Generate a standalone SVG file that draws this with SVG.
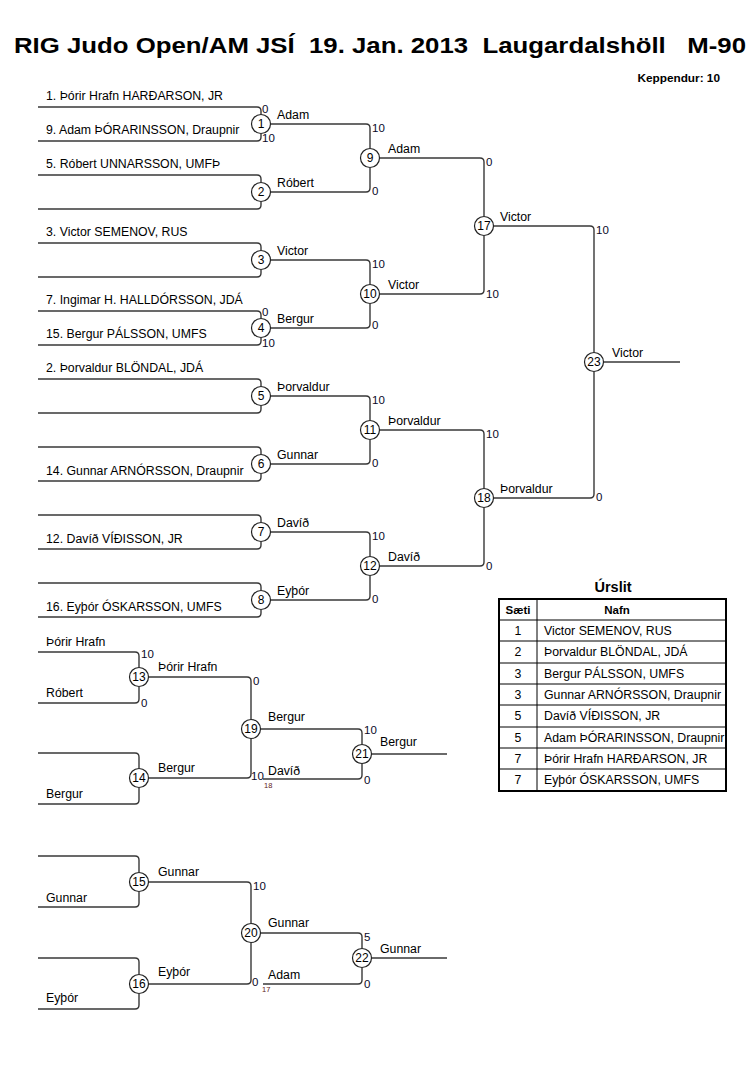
<svg xmlns="http://www.w3.org/2000/svg" width="755" height="1069" viewBox="0 0 755 1069">
<style>
text{font-family:"Liberation Sans",Arial,sans-serif;fill:#000}
.title{font-size:22.5px;font-weight:bold;white-space:pre}
.kp{font-size:11.8px;font-weight:bold}
.nm{font-size:12.3px}
.w{font-size:12.3px}
.s{font-size:11.5px;fill:#0a0a28}
.sm{font-size:7.5px;fill:#602020}
.n{font-size:12px;text-anchor:middle}
.ln{fill:none;stroke:#383838;stroke-width:1.4}
.c{fill:#fff;stroke:#222;stroke-width:1.2}
.tb{fill:none;stroke:#000;stroke-width:2}
.tl{fill:none;stroke:#000;stroke-width:1}
.th{font-size:11.5px;font-weight:bold;text-anchor:middle}
.tc{font-size:12.3px;text-anchor:middle}
.tr{font-size:12.3px}
.ur{font-size:14.5px;font-weight:bold;text-anchor:middle}
</style>
<rect width="755" height="1069" fill="#fff"/>
<text class="title" x="14" y="53" xml:space="preserve" textLength="732" lengthAdjust="spacingAndGlyphs">RIG Judo Open/AM JSÍ  19. Jan. 2013  Laugardalshöll   M-90</text>
<text class="kp" x="720" y="82" text-anchor="end">Keppendur: 10</text>

<g id="connectors">
<path class="ln" d="M38,107 H257 Q261,107 261,111 V114 M38,141 H257 Q261,141 261,137 V134"/>
<path class="ln" d="M38,175 H257 Q261,175 261,179 V182 M38,209 H257 Q261,209 261,205 V202"/>
<path class="ln" d="M38,243 H257 Q261,243 261,247 V250 M38,277 H257 Q261,277 261,273 V270"/>
<path class="ln" d="M38,311 H257 Q261,311 261,315 V318 M38,345 H257 Q261,345 261,341 V338"/>
<path class="ln" d="M38,379 H257 Q261,379 261,383 V386 M38,413 H257 Q261,413 261,409 V406"/>
<path class="ln" d="M38,447 H257 Q261,447 261,451 V454 M38,481 H257 Q261,481 261,477 V474"/>
<path class="ln" d="M38,515 H257 Q261,515 261,519 V522 M38,549 H257 Q261,549 261,545 V542"/>
<path class="ln" d="M38,583 H257 Q261,583 261,587 V590 M38,617 H257 Q261,617 261,613 V610"/>
<path class="ln" d="M271,124 H366 Q370,124 370,128 V148 M271,192 H366 Q370,192 370,188 V168"/>
<path class="ln" d="M271,260 H366 Q370,260 370,264 V284 M271,328 H366 Q370,328 370,324 V304"/>
<path class="ln" d="M271,396 H366 Q370,396 370,400 V420 M271,464 H366 Q370,464 370,460 V440"/>
<path class="ln" d="M271,532 H366 Q370,532 370,536 V556 M271,600 H366 Q370,600 370,596 V576"/>
<path class="ln" d="M380,158 H480 Q484,158 484,162 V216 M380,294 H480 Q484,294 484,290 V236"/>
<path class="ln" d="M380,430 H480 Q484,430 484,434 V488 M380,566 H480 Q484,566 484,562 V508"/>
<path class="ln" d="M494,226 H590 Q594,226 594,230 V352 M494,498 H590 Q594,498 594,494 V372"/>
<path class="ln" d="M604,362 H680"/>
<path class="ln" d="M38,652 H135 Q139,652 139,656 V667 M38,703 H135 Q139,703 139,699 V687"/>
<path class="ln" d="M38,753 H135 Q139,753 139,757 V768 M38,804 H135 Q139,804 139,800 V788"/>
<path class="ln" d="M149,677 H247 Q251,677 251,681 V719 M149,778 H247 Q251,778 251,774 V739"/>
<path class="ln" d="M261,729 H358 Q362,729 362,733 V744 M263,779 H358 Q362,779 362,775 V764"/>
<path class="ln" d="M372,754 H447"/>
<path class="ln" d="M38,856 H135 Q139,856 139,860 V872 M38,907 H135 Q139,907 139,903 V892"/>
<path class="ln" d="M38,958 H135 Q139,958 139,962 V974 M38,1009 H135 Q139,1009 139,1005 V994"/>
<path class="ln" d="M149,882 H247 Q251,882 251,886 V923 M149,984 H247 Q251,984 251,980 V943"/>
<path class="ln" d="M261,933 H358 Q362,933 362,937 V948 M263,984 H358 Q362,984 362,980 V968"/>
<path class="ln" d="M372,958 H447"/>
</g>

<g id="competitors">
<text class="nm" x="46" y="100">1. Þórir Hrafn HARÐARSON, JR</text>
<text class="nm" x="46" y="134">9. Adam ÞÓRARINSSON, Draupnir</text>
<text class="nm" x="46" y="168">5. Róbert UNNARSSON, UMFÞ</text>
<text class="nm" x="46" y="236">3. Victor SEMENOV, RUS</text>
<text class="nm" x="46" y="304">7. Ingimar H. HALLDÓRSSON, JDÁ</text>
<text class="nm" x="46" y="338">15. Bergur PÁLSSON, UMFS</text>
<text class="nm" x="46" y="372">2. Þorvaldur BLÖNDAL, JDÁ</text>
<text class="nm" x="46" y="475">14. Gunnar ARNÓRSSON, Draupnir</text>
<text class="nm" x="46" y="543">12. Davíð VÍÐISSON, JR</text>
<text class="nm" x="46" y="611">16. Eyþór ÓSKARSSON, UMFS</text>
<text class="nm" x="46" y="646">Þórir Hrafn</text>
<text class="nm" x="46" y="697">Róbert</text>
<text class="nm" x="46" y="798">Bergur</text>
<text class="nm" x="46" y="902">Gunnar</text>
<text class="nm" x="46" y="1002">Eyþór</text>
</g>

<g id="scores">
<text class="s" x="262" y="113">0</text><text class="s" x="262" y="142">10</text>
<text class="s" x="262" y="316">0</text><text class="s" x="262" y="347">10</text>
<text class="s" x="372" y="132">10</text><text class="s" x="372" y="195">0</text>
<text class="s" x="372" y="268">10</text><text class="s" x="372" y="329">0</text>
<text class="s" x="372" y="404">10</text><text class="s" x="372" y="467">0</text>
<text class="s" x="372" y="540">10</text><text class="s" x="372" y="603">0</text>
<text class="s" x="486" y="166">0</text><text class="s" x="486" y="298">10</text>
<text class="s" x="486" y="438">10</text><text class="s" x="486" y="570">0</text>
<text class="s" x="596" y="234">10</text><text class="s" x="596" y="501">0</text>
<text class="s" x="141" y="658">10</text><text class="s" x="141" y="707">0</text>
<text class="s" x="253" y="685">0</text><text class="s" x="251" y="780">10</text>
<text class="s" x="364" y="734">10</text><text class="s" x="364" y="784">0</text>
<text class="s" x="253" y="890">10</text><text class="s" x="252" y="986">0</text>
<text class="s" x="364" y="941">5</text><text class="s" x="364" y="988">0</text>
<text class="sm" x="264" y="788">18</text>
<text class="sm" x="262" y="992">17</text>
</g>

<g id="m1"><circle class="c" cx="261" cy="124" r="9.5"/><text class="n" x="261" y="128">1</text><text class="w" x="277" y="119">Adam</text></g>
<g id="m2"><circle class="c" cx="261" cy="192" r="9.5"/><text class="n" x="261" y="196">2</text><text class="w" x="277" y="187">Róbert</text></g>
<g id="m3"><circle class="c" cx="261" cy="260" r="9.5"/><text class="n" x="261" y="264">3</text><text class="w" x="277" y="255">Victor</text></g>
<g id="m4"><circle class="c" cx="261" cy="328" r="9.5"/><text class="n" x="261" y="332">4</text><text class="w" x="277" y="323">Bergur</text></g>
<g id="m5"><circle class="c" cx="261" cy="396" r="9.5"/><text class="n" x="261" y="400">5</text><text class="w" x="277" y="391">Þorvaldur</text></g>
<g id="m6"><circle class="c" cx="261" cy="464" r="9.5"/><text class="n" x="261" y="468">6</text><text class="w" x="277" y="459">Gunnar</text></g>
<g id="m7"><circle class="c" cx="261" cy="532" r="9.5"/><text class="n" x="261" y="536">7</text><text class="w" x="277" y="527">Davíð</text></g>
<g id="m8"><circle class="c" cx="261" cy="600" r="9.5"/><text class="n" x="261" y="604">8</text><text class="w" x="277" y="595">Eyþór</text></g>
<g id="m9"><circle class="c" cx="370" cy="158" r="9.5"/><text class="n" x="370" y="162">9</text><text class="w" x="388" y="153">Adam</text></g>
<g id="m10"><circle class="c" cx="370" cy="294" r="9.5"/><text class="n" x="370" y="298">10</text><text class="w" x="388" y="289">Victor</text></g>
<g id="m11"><circle class="c" cx="370" cy="430" r="9.5"/><text class="n" x="370" y="434">11</text><text class="w" x="388" y="425">Þorvaldur</text></g>
<g id="m12"><circle class="c" cx="370" cy="566" r="9.5"/><text class="n" x="370" y="570">12</text><text class="w" x="388" y="561">Davíð</text></g>
<g id="m17"><circle class="c" cx="484" cy="226" r="9.5"/><text class="n" x="484" y="230">17</text><text class="w" x="500" y="221">Victor</text></g>
<g id="m18"><circle class="c" cx="484" cy="498" r="9.5"/><text class="n" x="484" y="502">18</text><text class="w" x="500" y="493">Þorvaldur</text></g>
<g id="m23"><circle class="c" cx="594" cy="362" r="9.5"/><text class="n" x="594" y="366">23</text><text class="w" x="612" y="357">Victor</text></g>
<g id="m13"><circle class="c" cx="139" cy="677" r="9.5"/><text class="n" x="139" y="681">13</text><text class="w" x="158" y="671">Þórir Hrafn</text></g>
<g id="m14"><circle class="c" cx="139" cy="778" r="9.5"/><text class="n" x="139" y="782">14</text><text class="w" x="158" y="772">Bergur</text></g>
<g id="m19"><circle class="c" cx="251" cy="729" r="9.5"/><text class="n" x="251" y="733">19</text><text class="w" x="268" y="721">Bergur</text></g>
<g id="m21"><circle class="c" cx="362" cy="754" r="9.5"/><text class="n" x="362" y="758">21</text><text class="w" x="380" y="746">Bergur</text></g>
<g id="m21b"><text class="w" x="268" y="775">Davíð</text></g>
<g id="m15"><circle class="c" cx="139" cy="882" r="9.5"/><text class="n" x="139" y="886">15</text><text class="w" x="158" y="876">Gunnar</text></g>
<g id="m16"><circle class="c" cx="139" cy="984" r="9.5"/><text class="n" x="139" y="988">16</text><text class="w" x="158" y="976">Eyþór</text></g>
<g id="m20"><circle class="c" cx="251" cy="933" r="9.5"/><text class="n" x="251" y="937">20</text><text class="w" x="268" y="927">Gunnar</text></g>
<g id="m22"><circle class="c" cx="362" cy="958" r="9.5"/><text class="n" x="362" y="962">22</text><text class="w" x="380" y="953">Gunnar</text></g>
<g id="m22b"><text class="w" x="268" y="979">Adam</text></g>

<g id="results">
<text class="ur" x="613" y="592">Úrslit</text>
<rect class="tb" x="499" y="599" width="227" height="192"/>
<path class="tl" d="M537,599 V791 M499,620 H726 M499,641 H726 M499,663 H726 M499,684 H726 M499,705 H726 M499,727 H726 M499,748 H726 M499,769 H726"/>
<text class="th" x="518" y="614">Sæti</text>
<text class="th" x="617" y="614">Nafn</text>
<text class="tc" x="518" y="635">1</text><text class="tr" x="544" y="635">Victor SEMENOV, RUS</text>
<text class="tc" x="518" y="656">2</text><text class="tr" x="544" y="656">Þorvaldur BLÖNDAL, JDÁ</text>
<text class="tc" x="518" y="678">3</text><text class="tr" x="544" y="678">Bergur PÁLSSON, UMFS</text>
<text class="tc" x="518" y="699">3</text><text class="tr" x="544" y="699">Gunnar ARNÓRSSON, Draupnir</text>
<text class="tc" x="518" y="720">5</text><text class="tr" x="544" y="720">Davíð VÍÐISSON, JR</text>
<text class="tc" x="518" y="742">5</text><text class="tr" x="544" y="742">Adam ÞÓRARINSSON, Draupnir</text>
<text class="tc" x="518" y="763">7</text><text class="tr" x="544" y="763">Þórir Hrafn HARÐARSON, JR</text>
<text class="tc" x="518" y="784">7</text><text class="tr" x="544" y="784">Eyþór ÓSKARSSON, UMFS</text>
</g>
</svg>
